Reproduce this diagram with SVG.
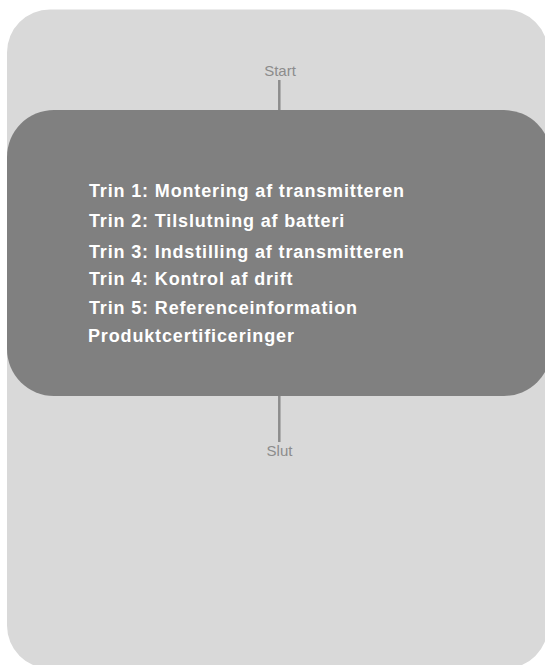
<svg xmlns="http://www.w3.org/2000/svg" width="545" height="665" viewBox="0 0 545 665">
  <style>
    .term { font-family: "Liberation Sans", Arial, sans-serif; font-size: 15px; fill: #8c8c8c; text-anchor: middle; }
    .step { font-family: "Liberation Sans", Arial, sans-serif; font-size: 18px; font-weight: bold; fill: #ffffff; letter-spacing: 0.85px; }
    .conn { stroke: #8c8c8c; stroke-width: 2.5; fill: none; }
  </style>
  <rect x="0" y="0" width="545" height="665" fill="#ffffff"/>
  <g id="container">
    <rect x="7" y="9.5" width="541" height="659" rx="43" ry="43" fill="#d9d9d9"/>
  </g>
  <g id="connectors">
    <line class="conn" x1="279.3" y1="80" x2="279.3" y2="111"/>
    <line class="conn" x1="279.3" y1="395" x2="279.3" y2="442"/>
  </g>
  <g id="start">
    <text class="term" x="280" y="75.7">Start</text>
  </g>
  <g id="steps">
    <rect x="7" y="110" width="544" height="286" rx="47" ry="47" fill="#808080"/>
    <text class="step" x="89" y="197">Trin 1: Montering af transmitteren</text>
    <text class="step" x="89" y="226.5">Trin 2: Tilslutning af batteri</text>
    <text class="step" x="89" y="257.5">Trin 3: Indstilling af transmitteren</text>
    <text class="step" x="89" y="285">Trin 4: Kontrol af drift</text>
    <text class="step" x="89" y="313.5">Trin 5: Referenceinformation</text>
    <text class="step" x="88" y="341.5">Produktcertificeringer</text>
  </g>
  <g id="end">
    <text class="term" x="279.5" y="456">Slut</text>
  </g>
</svg>
